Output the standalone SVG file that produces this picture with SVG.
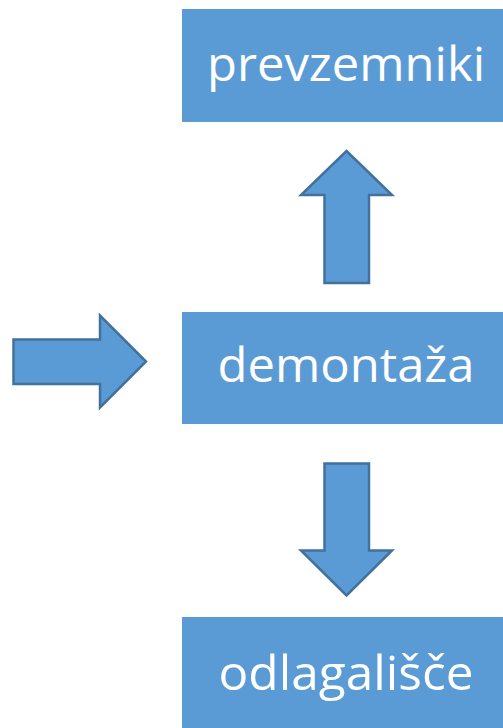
<svg xmlns="http://www.w3.org/2000/svg" width="503" height="728" viewBox="0 0 503 728">
<style>
.box{fill:#5B9BD5;}
.lbl{font-family:"Open Sans","Liberation Sans",sans-serif;font-size:47px;fill:#FFFFFF;text-anchor:middle;}
.arr{fill:#5B9BD5;stroke:#41719C;stroke-width:2.5;stroke-linejoin:miter;}
</style>
<rect width="503" height="728" fill="#FFFFFF"/>
<g id="prevzemniki">
<rect class="box" x="182" y="9" width="321" height="113"/>
<text class="lbl" x="346" y="81" textLength="278" lengthAdjust="spacingAndGlyphs">prevzemniki</text>
</g>
<g id="demontaza">
<rect class="box" x="182" y="312" width="321" height="112"/>
<text class="lbl" x="346" y="382" textLength="257" lengthAdjust="spacingAndGlyphs">demontaža</text>
</g>
<g id="odlagalisce">
<rect class="box" x="182" y="617" width="321" height="111"/>
<text class="lbl" x="346" y="690" textLength="255" lengthAdjust="spacingAndGlyphs">odlagališče</text>
</g>
<g id="connectors">
<polygon class="arr" points="346.5,151 392,195 369,195 369,283 324.5,283 324.5,195 301,195"/>
<polygon class="arr" points="13.5,339.5 100,339.5 100,315.5 146,361.5 100,407.5 100,384 13.5,384"/>
<polygon class="arr" points="324.5,463.5 369,463.5 369,550.5 392,550.5 346.5,595.5 301,550.5 324.5,550.5"/>
</g>
</svg>
